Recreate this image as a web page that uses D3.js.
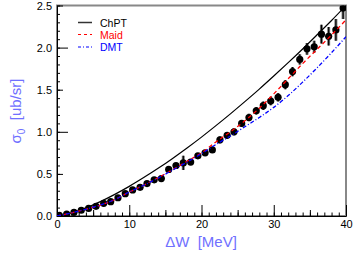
<!DOCTYPE html>
<html>
<head>
<meta charset="utf-8">
<script src="https://cdn.jsdelivr.net/npm/d3@7"></script>
<style>
  body { margin: 0; background: #fff; }
  svg { font-family: "Liberation Sans", Arial, sans-serif; }
  .title { white-space: pre; }
</style>
</head>
<body>
<svg id="chart"></svg>
<script>
// measured points
const dataW = [0.32, 1.34, 2.35, 3.36, 4.38, 5.4, 6.46, 7.43, 8.44, 9.45,
  10.47, 11.5, 12.46, 13.45, 14.44, 15.46, 16.47, 17.48, 18.5, 19.5,
  20.5, 21.5, 22.55, 23.55, 24.5, 25.56, 26.57, 27.58, 28.55, 29.58,
  30.6, 31.6, 32.6, 33.6, 34.6, 35.6, 36.6, 37.6, 38.6, 39.6];
const dataSigma = [0.008, 0.024, 0.044, 0.068, 0.09, 0.115, 0.15, 0.17, 0.217, 0.265,
  0.31, 0.34, 0.385, 0.43, 0.445, 0.553, 0.6, 0.63, 0.64, 0.715,
  0.75, 0.785, 0.905, 0.958, 1.0, 1.1, 1.17, 1.25, 1.31, 1.365,
  1.41, 1.56, 1.715, 1.86, 1.985, 2.01, 2.16, 2.135, 2.21, 2.47];
const dataErr = [0.01, 0.01, 0.01, 0.01, 0.01, 0.015, 0.015, 0.015, 0.02, 0.02,
  0.02, 0.02, 0.025, 0.025, 0.025, 0.03, 0.03, 0.085, 0.03, 0.03,
  0.03, 0.03, 0.04, 0.04, 0.04, 0.04, 0.045, 0.045, 0.05, 0.05,
  0.05, 0.055, 0.055, 0.06, 0.07, 0.07, 0.11, 0.11, 0.13, 0.13];

// theory curves
const curveW = [0, 2, 4, 6, 8, 10, 12, 14, 16, 18, 20, 22, 24, 26, 28, 30, 32, 34, 36, 38, 40];
const chpt = [0, 0.036, 0.096, 0.171, 0.257, 0.352, 0.456, 0.566, 0.684, 0.808, 0.937,
  1.073, 1.213, 1.358, 1.507, 1.662, 1.821, 1.984, 2.152, 2.322, 2.5];
const maid = [0, 0.037, 0.08, 0.13, 0.195, 0.285, 0.365, 0.455, 0.55, 0.65, 0.75,
  0.88, 1.0, 1.13, 1.28, 1.45, 1.63, 1.81, 1.98, 2.15, 2.33];
const dmt = [0, 0.037, 0.08, 0.13, 0.195, 0.285, 0.365, 0.45, 0.545, 0.64, 0.74,
  0.85, 0.95, 1.06, 1.17, 1.29, 1.43, 1.59, 1.76, 1.94, 2.13];

const legendNames = ["ChPT", "Maid", "DMT"];
const legendColors = ["#000", "#ff0000", "#0000ff"];
const legendDash = [null, "4,3", "4,2,1,2"];

const width = 360, height = 256;
const pLeft = 57, pRight = 346, pTop = 5.5, pBottom = 216;
const titleColor = "#7070ff";

const svg = d3.select("#chart").attr("width", width).attr("height", height);

const x = d3.scaleLinear().domain([0, 40]).range([pLeft, pRight]);
const y = d3.scaleLinear().domain([0, 2.5]).range([pBottom, pTop]);

// frame
svg.append("rect")
  .attr("x", pLeft).attr("y", pTop)
  .attr("width", pRight - pLeft).attr("height", pBottom - pTop)
  .attr("fill", "none").attr("stroke", "#888").attr("stroke-width", 2);

svg.append("defs").append("clipPath").attr("id", "clip")
  .append("rect").attr("x", pLeft).attr("y", pTop)
  .attr("width", pRight - pLeft).attr("height", pBottom - pTop);

// ticks, pointing inside
function tickSet(axis, values, size) {
  return axis.tickValues(values).tickSize(-size).tickFormat("");
}
const yMinor = d3.range(0, 2.51, 0.1).map(v => +v.toFixed(1));
const xMinor = d3.range(0, 41, 1);

[[yMinor, 3], [[0.5, 1.5, 2.5], 6], [[0, 1, 2], 11]].forEach(([vals, s]) => {
  svg.append("g").attr("transform", `translate(${pLeft},0)`)
    .call(tickSet(d3.axisLeft(y), vals, s))
    .call(g => g.select(".domain").remove());
});
[[xMinor, 3.5], [[5, 15, 25, 35], 6], [[0, 10, 20, 30, 40], 11]].forEach(([vals, s]) => {
  svg.append("g").attr("transform", `translate(0,${pBottom})`)
    .call(tickSet(d3.axisBottom(x), vals, s))
    .call(g => g.select(".domain").remove());
});

// axis lines and labels
svg.append("g").attr("transform", `translate(${pLeft},0)`)
  .call(d3.axisLeft(y).tickValues([0, 0.5, 1, 1.5, 2, 2.5]).tickSize(0).tickPadding(5).tickFormat(d3.format(".1f")))
  .call(g => g.select(".domain").attr("stroke", "#000"))
  .call(g => g.selectAll("text").attr("font-size", 11).attr("font-family", "Liberation Sans, Arial, sans-serif"));
svg.append("g").attr("transform", `translate(0,${pBottom})`)
  .call(d3.axisBottom(x).tickValues([0, 10, 20, 30, 40]).tickSize(0).tickPadding(4).tickFormat(d3.format("d")))
  .call(g => g.select(".domain").attr("stroke", "#000"))
  .call(g => g.selectAll("text").attr("font-size", 11).attr("font-family", "Liberation Sans, Arial, sans-serif"));

// titles
svg.append("text").attr("class", "title")
  .attr("x", 201).attr("y", 247)
  .attr("text-anchor", "middle").attr("font-size", 15).attr("fill", titleColor)
  .text("ΔW  [MeV]");

const yt = svg.append("text").attr("class", "title")
  .attr("transform", "translate(21,111) rotate(-90)")
  .attr("text-anchor", "middle").attr("font-size", 15).attr("fill", titleColor);
yt.append("tspan").text("σ");
yt.append("tspan").attr("font-size", 10).attr("dy", 4).text("0");
yt.append("tspan").attr("dy", -4).text("  [ub/sr]");

// data points with error bars
const plot = svg.append("g").attr("clip-path", "url(#clip)");
const pts = dataW.map((w, i) => ({w: w, s: dataSigma[i], e: dataErr[i]}));

plot.selectAll(".sys").data(pts).enter().append("line")
  .attr("x1", d => x(d.w)).attr("x2", d => x(d.w))
  .attr("y1", d => y(d.s - d.e)).attr("y2", d => y(d.s + d.e))
  .attr("stroke", "#777").attr("stroke-width", 3);
plot.selectAll(".err").data(pts).enter().append("line")
  .attr("x1", d => x(d.w)).attr("x2", d => x(d.w))
  .attr("y1", d => y(d.s - d.e)).attr("y2", d => y(d.s + d.e))
  .attr("stroke", "#000").attr("stroke-width", 1.2);
plot.selectAll(".pt").data(pts).enter().append("circle")
  .attr("cx", d => x(d.w)).attr("cy", d => y(d.s)).attr("r", 3.6)
  .attr("fill", "#000");

// curves
const line = d3.line().x(d => x(d[0])).y(d => y(d[1])).curve(d3.curveMonotoneX);
[chpt, maid, dmt].forEach((vals, i) => {
  plot.append("path")
    .datum(curveW.map((w, j) => [w, vals[j]]))
    .attr("d", line)
    .attr("fill", "none")
    .attr("stroke", legendColors[i])
    .attr("stroke-width", i === 0 ? 1.2 : 1.3)
    .attr("stroke-dasharray", legendDash[i]);
});

// legend
const legendY = [22.5, 34.5, 47];
legendNames.forEach((name, i) => {
  svg.append("line")
    .attr("x1", 78).attr("x2", 92).attr("y1", legendY[i]).attr("y2", legendY[i])
    .attr("stroke", i === 0 ? "#333" : legendColors[i])
    .attr("stroke-width", i === 0 ? 1.5 : 1.2)
    .attr("stroke-dasharray", i === 1 ? "3,3" : (i === 2 ? "3,2,1,2" : null));
  svg.append("text")
    .attr("x", 100).attr("y", legendY[i] + 4)
    .attr("font-size", 10.5).attr("fill", legendColors[i])
    .text(name);
});
</script>
</body>
</html>
